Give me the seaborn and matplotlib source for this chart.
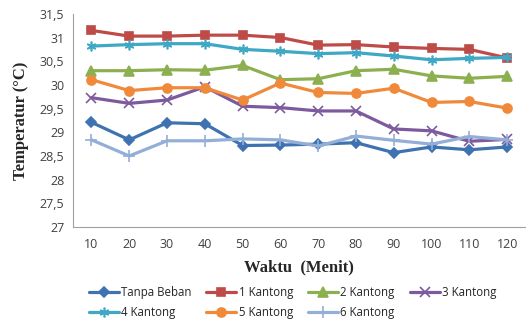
import matplotlib
matplotlib.use("Agg")
import matplotlib.pyplot as plt
from matplotlib.ticker import FixedLocator, FuncFormatter
import pandas as pd
import seaborn as sns

# data
waktu = [10, 20, 30, 40, 50, 60, 70, 80, 90, 100, 110, 120]
tanpa_beban = [29.21, 28.84, 29.20, 29.18, 28.72, 28.73, 28.75, 28.78, 28.57, 28.69, 28.63, 28.69]
kantong_1 = [31.15, 31.03, 31.03, 31.05, 31.05, 31.00, 30.84, 30.85, 30.80, 30.77, 30.75, 30.57]
kantong_2 = [30.30, 30.30, 30.32, 30.31, 30.41, 30.11, 30.13, 30.30, 30.33, 30.19, 30.14, 30.18]
kantong_3 = [29.73, 29.61, 29.68, 29.96, 29.55, 29.52, 29.45, 29.45, 29.07, 29.03, 28.81, 28.85]
kantong_4 = [30.82, 30.85, 30.87, 30.87, 30.75, 30.71, 30.66, 30.68, 30.61, 30.53, 30.56, 30.58]
kantong_5 = [30.11, 29.88, 29.94, 29.94, 29.68, 30.04, 29.84, 29.82, 29.93, 29.63, 29.65, 29.51]
kantong_6 = [28.84, 28.50, 28.82, 28.82, 28.86, 28.84, 28.71, 28.92, 28.83, 28.75, 28.91, 28.84]

series = {
    "Tanpa Beban": tanpa_beban,
    "1 Kantong": kantong_1,
    "2 Kantong": kantong_2,
    "3 Kantong": kantong_3,
    "4 Kantong": kantong_4,
    "5 Kantong": kantong_5,
    "6 Kantong": kantong_6,
}

gaya = {
    "Tanpa Beban": ("#3F72B0", "D", 5),
    "1 Kantong": ("#BE4B48", "s", 6),
    "2 Kantong": ("#8CB04F", "^", 6.5),
    "3 Kantong": ("#7D5A9E", "x", 6.5),
    "4 Kantong": ("#3FA8C4", (6, 2, 0), 7),
    "5 Kantong": ("#F08A3A", "o", 6.5),
    "6 Kantong": ("#93AFD8", "+", 8),
}

df = pd.DataFrame({"Waktu": waktu, **series})
df_long = df.melt(id_vars="Waktu", var_name="Beban", value_name="Suhu")

sns.set_style("white")
plt.rcParams["font.family"] = ["Open Sans", "DejaVu Sans"]

fig = plt.figure(figsize=(5.26, 3.22), dpi=100)
ax = fig.add_axes([0.138, 0.295, 0.862, 0.662])

for nama in series:
    warna, mk, ms = gaya[nama]
    sub = df_long[df_long["Beban"] == nama]
    sns.lineplot(data=sub, x="Waktu", y="Suhu", ax=ax, color=warna, lw=2.3,
                 marker=mk, markersize=ms, markeredgecolor=warna,
                 markeredgewidth=1.2, label=nama)

ax.set_xlim(5, 125)
ax.set_ylim(27, 31.5)
ax.set_xticks(waktu)
ax.xaxis.set_minor_locator(FixedLocator([5 + 10 * i for i in range(13)]))
ax.set_yticks([27 + 0.5 * i for i in range(10)])
ax.yaxis.set_major_formatter(FuncFormatter(lambda v, p: f"{v:g}".replace(".", ",")))
ax.tick_params(axis="x", which="major", length=0, pad=8, labelsize=9, labelcolor="#404040")
ax.tick_params(axis="x", which="minor", length=4, width=0.8, color="#A0A0A0", direction="out")
ax.tick_params(axis="y", length=4, width=0.8, color="#A0A0A0", direction="out", pad=2,
               labelsize=9, labelcolor="#404040")

sns.despine(ax=ax, top=True, right=True)
for s in ["left", "bottom"]:
    ax.spines[s].set_color("#A0A0A0")
    ax.spines[s].set_linewidth(0.8)

ax.set_xlabel("Waktu  (Menit)", fontsize=12, fontweight="bold",
              family=["Liberation Serif"], labelpad=6)
ax.set_ylabel("Temperatur (°C)", fontsize=12, fontweight="bold",
              family=["Liberation Serif"], labelpad=8)

# legend order so that rows read like the reference (column-first filling)
h, l = ax.get_legend_handles_labels()
urutan = ["Tanpa Beban", "4 Kantong", "1 Kantong", "5 Kantong", "2 Kantong", "6 Kantong", "3 Kantong"]
h = [h[l.index(n)] for n in urutan]
ax.legend(h, urutan, ncol=4, loc="upper center", bbox_to_anchor=(0.485, -0.255),
          frameon=False, fontsize=8.3, handlelength=2.6, columnspacing=1.3,
          handletextpad=0.2, labelspacing=0.65, borderaxespad=0)

fig.savefig("out.png", dpi=100)
